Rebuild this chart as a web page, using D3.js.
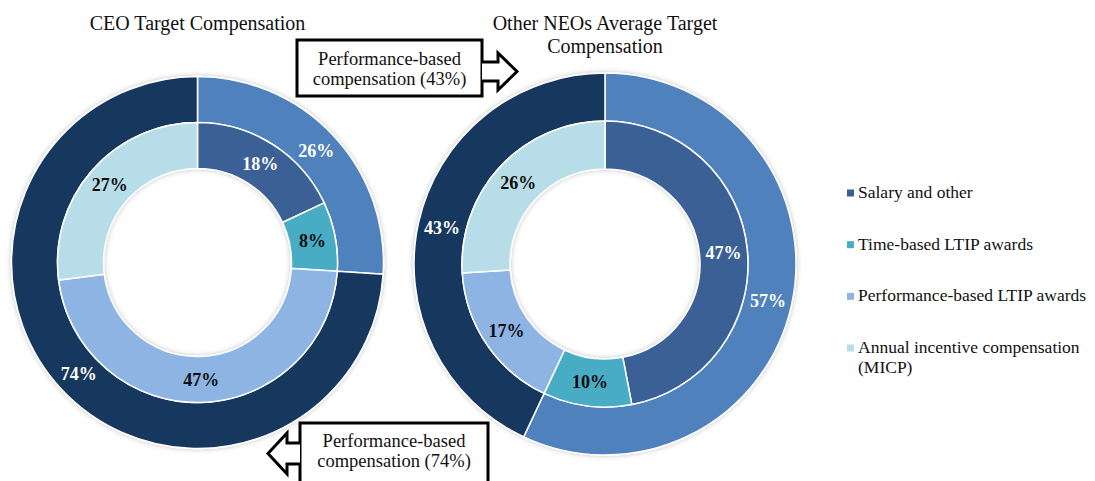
<!DOCTYPE html>
<html>
<head>
<meta charset="utf-8">
<script src="https://cdn.jsdelivr.net/npm/d3@7"></script>
<style>
  html, body { margin: 0; padding: 0; background: #fff; }
  svg { display: block; font-family: "Liberation Serif", "Times New Roman", serif; }
</style>
</head>
<body>
<svg id="chart" width="1095" height="481"></svg>
<script>
// ---- data ----
const categories = [
  'Salary and other',
  'Time-based LTIP awards',
  'Performance-based LTIP awards',
  'Annual incentive compensation (MICP)',
];
const ceoInner = [18, 8, 47, 27];
const neoInner = [47, 10, 17, 26];
// outer ring: [not performance-based, performance-based]
const ceoOuter = [26, 74];
const neoOuter = [57, 43];

const innerColors = ['#3a6096', '#4aacc5', '#8eb4e3', '#b7dde8'];
const innerLabelColors = ['#fff', '#0d0d0d', '#0d0d0d', '#0d0d0d'];
const outerColors = ['#4f81bd', '#17375e'];

const svg = d3.select('#chart');

const defs = svg.append('defs');
defs.append('filter')
  .attr('id', 'soft')
  .attr('x', '-10%').attr('y', '-10%')
  .attr('width', '120%').attr('height', '120%')
  .append('feDropShadow')
  .attr('dx', 0).attr('dy', 0)
  .attr('stdDeviation', 2.5)
  .attr('flood-color', '#000')
  .attr('flood-opacity', 0.25);

const pie = d3.pie().sort(null).value((d) => d);

function drawDonut(cfg) {
  const g = svg.append('g').attr('transform', `translate(${cfg.cx},${cfg.cy})`);

  const outerArc = d3.arc().innerRadius(cfg.r1).outerRadius(cfg.r2);
  const innerArc = d3.arc().innerRadius(cfg.r0).outerRadius(cfg.r1);

  const rings = g.append('g').attr('filter', 'url(#soft)');

  rings.selectAll('path.outer')
    .data(pie(cfg.outer))
    .join('path')
    .attr('class', 'outer')
    .attr('d', outerArc)
    .attr('fill', (d, i) => outerColors[i])
    .attr('stroke', '#fff')
    .attr('stroke-width', 1.5);

  rings.selectAll('path.inner')
    .data(pie(cfg.inner))
    .join('path')
    .attr('class', 'inner')
    .attr('d', innerArc)
    .attr('fill', (d, i) => innerColors[i])
    .attr('stroke', '#fff')
    .attr('stroke-width', 1.5);

  g.selectAll('text.outer-lbl')
    .data(pie(cfg.outer))
    .join('text')
    .attr('class', 'outer-lbl')
    .attr('transform', (d) => `translate(${outerArc.centroid(d)})`)
    .attr('text-anchor', 'middle')
    .attr('dy', '0.35em')
    .attr('font-size', 18)
    .attr('font-weight', 'bold')
    .attr('fill', '#fff')
    .text((d) => d.data + '%');

  g.selectAll('text.inner-lbl')
    .data(pie(cfg.inner))
    .join('text')
    .attr('class', 'inner-lbl')
    .attr('transform', (d) => `translate(${innerArc.centroid(d)})`)
    .attr('text-anchor', 'middle')
    .attr('dy', '0.35em')
    .attr('font-size', 18)
    .attr('font-weight', 'bold')
    .attr('fill', (d, i) => innerLabelColors[i])
    .text((d) => d.data + '%');

  // title
  const title = svg.append('text')
    .attr('x', cfg.cx)
    .attr('y', 30)
    .attr('text-anchor', 'middle')
    .attr('font-size', 20)
    .attr('fill', '#111');
  cfg.title.forEach((line, i) => {
    title.append('tspan').attr('x', cfg.cx).attr('dy', i ? 23 : 0).text(line);
  });
}

drawDonut({
  cx: 197.5, cy: 262.5, r0: 94, r1: 140, r2: 186,
  inner: ceoInner, outer: ceoOuter,
  title: ['CEO Target Compensation'],
});

drawDonut({
  cx: 605, cy: 264, r0: 95, r1: 143, r2: 191,
  inner: neoInner, outer: neoOuter,
  title: ['Other NEOs Average Target', 'Compensation'],
});

// ---- callout boxes with block arrows ----
function callout(box, arrow, lines) {
  const g = svg.append('g');
  g.append('rect')
    .attr('x', box.x).attr('y', box.y)
    .attr('width', box.w).attr('height', box.h)
    .attr('fill', '#fff')
    .attr('stroke', '#000')
    .attr('stroke-width', 3);
  g.append('path')
    .attr('d', d3.line()(arrow))
    .attr('fill', '#fff')
    .attr('stroke', '#000')
    .attr('stroke-width', 3)
    .attr('stroke-linejoin', 'miter');
  lines.forEach((t, i) => {
    g.append('text')
      .attr('x', box.x + box.w / 2)
      .attr('y', box.base + i * 20)
      .attr('text-anchor', 'middle')
      .attr('font-size', 18.5)
      .attr('fill', '#111')
      .text(t);
  });
}

callout(
  { x: 297, y: 40, w: 185, h: 56, base: 64.5 },
  [[482, 62], [498, 62], [498, 53], [517, 71.5], [498, 90], [498, 81], [482, 81]],
  ['Performance-based', 'compensation (' + neoOuter[1] + '%)'],
);

callout(
  { x: 300, y: 423, w: 188, h: 70, base: 447 },
  [[300, 443], [287, 443], [287, 433], [268, 453.5], [287, 474], [287, 464], [300, 464]],
  ['Performance-based', 'compensation (' + ceoOuter[1] + '%)'],
);

// ---- legend ----
const legendY = d3.scalePoint().domain(categories).range([193, 348]);
const legend = svg.append('g');
const items = legend.selectAll('g')
  .data(categories)
  .join('g')
  .attr('transform', (d) => `translate(847,${legendY(d)})`);

items.append('rect')
  .attr('x', 0).attr('y', -3.5)
  .attr('width', 7).attr('height', 7)
  .attr('fill', (d, i) => innerColors[i]);

items.append('text')
  .attr('x', 11)
  .attr('y', 5)
  .attr('font-size', 17.5)
  .attr('fill', '#111')
  .each(function (d) {
    const m = d.match(/^(.*) (\(MICP\))$/);
    const t = d3.select(this);
    if (m) {
      t.append('tspan').attr('x', 11).text(m[1]);
      t.append('tspan').attr('x', 11).attr('dy', 20).text(m[2]);
    } else {
      t.text(d);
    }
  });
</script>
</body>
</html>
